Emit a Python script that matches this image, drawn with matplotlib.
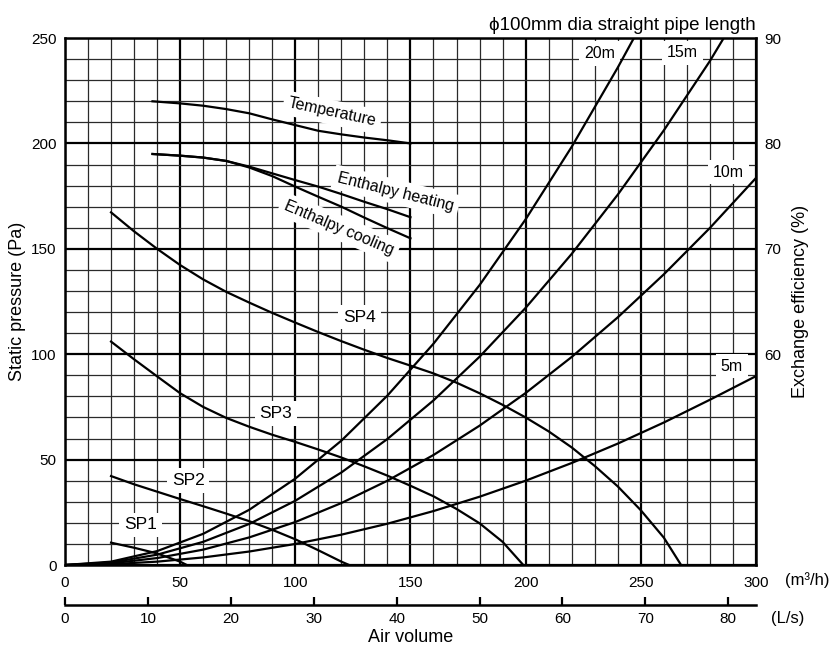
from __future__ import annotations

import numpy as np
import matplotlib
matplotlib.use("Agg")
import matplotlib.pyplot as plt

plt.rcParams["font.family"] = ["Liberation Sans", "DejaVu Sans"]

# ------------------------------------------------------------------ #
#   Data
# ------------------------------------------------------------------ #
# fan curves: air volume (m3/h) -> static pressure (Pa)
sp4_q = [20, 30, 40, 50, 60, 70, 80, 90, 100, 110, 120, 130, 140, 150, 160,
         170, 180, 190, 200, 210, 220, 230, 240, 250, 260, 267.5]
sp4_p = [167.3, 158.3, 150, 142.3, 135.5, 129.6, 124.5, 119.6, 115, 110.5,
         106.2, 102.1, 98.2, 94.6, 90.9, 86.5, 81.5, 76, 70, 63.4, 55.8, 47,
         37.3, 26, 13, 0]

sp3_q = [20, 30, 40, 50, 60, 70, 80, 90, 100, 110, 120, 130, 140, 150, 160,
         170, 180, 190, 199]
sp3_p = [106, 97.6, 89.5, 81.5, 75, 69.8, 65.6, 61.8, 58.4, 54.8, 51, 46.8,
         42.4, 37.6, 32.6, 26.6, 19.8, 11, 0]

sp2_q = [20, 30, 40, 50, 60, 70, 80, 90, 100, 110, 120, 123.4]
sp2_p = [42.2, 38.3, 34.8, 31.3, 27.9, 24.4, 20.8, 16.7, 12.2, 7, 1.6, 0]

sp1_q = [20, 30, 40, 50, 52.9]
sp1_p = [10.6, 8.2, 5.5, 1.6, 0]

# duct resistance, phi100 straight pipe
pipe20_q = [0, 20, 40, 60, 80, 100, 120, 140, 160, 180, 200, 220, 240, 247]
pipe20_p = [0, 1.6, 6.6, 14.8, 26.2, 41, 59, 80.4, 105, 132.8, 164, 198.4,
            236, 250]
pipe15_q = [0, 20, 40, 60, 80, 100, 120, 140, 160, 180, 200, 220, 240, 260,
            280, 286]
pipe15_p = [0, 1.2, 4.9, 11, 19.5, 30.5, 43.9, 59.8, 78.1, 98.8, 122, 147.6,
            175.7, 206.2, 239.1, 250]
pipe10_q = [0, 20, 40, 60, 80, 100, 120, 140, 160, 180, 200, 220, 240, 260,
            280, 300]
pipe10_p = [0, 0.8, 3.3, 7.3, 13.1, 20.4, 29.4, 40, 52.2, 66.1, 81.6, 98.7,
            117.5, 137.9, 159.9, 183.6]
pipe5_q = [0, 20, 40, 60, 80, 100, 120, 140, 160, 180, 200, 220, 240, 260,
           280, 300]
pipe5_p = [0, 0.4, 1.6, 3.6, 6.4, 10, 14.4, 19.6, 25.6, 32.4, 40, 48.4, 57.6,
           67.6, 78.4, 89.6]

# exchange efficiency (%)
eff_q = [38, 50, 60, 70, 80, 90, 100, 110, 120, 130, 140, 150]
temp_eff = [84.0, 83.8, 83.58, 83.26, 82.86, 82.28, 81.74, 81.2, 80.86,
            80.56, 80.3, 80.0]
heat_eff = [79.0, 78.84, 78.66, 78.34, 77.8, 77.16, 76.52, 75.9, 75.2,
            74.46, 73.76, 73.0]
cool_eff = [79.0, 78.84, 78.66, 78.34, 77.72, 76.9, 75.9, 74.94, 74.0,
            72.96, 71.96, 71.0]

fan_curves = [(sp1_q, sp1_p), (sp2_q, sp2_p), (sp3_q, sp3_p), (sp4_q, sp4_p)]
pipe_curves = [(pipe20_q, pipe20_p), (pipe15_q, pipe15_p),
               (pipe10_q, pipe10_p), (pipe5_q, pipe5_p)]
eff_curves = [temp_eff, heat_eff, cool_eff]

# ------------------------------------------------------------------ #
#   Figure
# ------------------------------------------------------------------ #
fig = plt.figure(figsize=(8.33, 6.45), dpi=100)
ax = fig.add_axes([0.078, 0.124, 0.8295, 0.817])
ax.set_xlim(0, 300)
ax.set_ylim(0, 250)

ax.set_xticks(np.arange(0, 301, 50))
ax.set_xticks(np.arange(0, 301, 10), minor=True)
ax.set_yticks(np.arange(0, 251, 50))
ax.set_yticks(np.arange(0, 251, 10), minor=True)
ax.grid(which="major", color="black", lw=1.6)
ax.grid(which="minor", color="#2a2a2a", lw=0.9)
ax.tick_params(which="both", length=0, labelsize=11)
ax.tick_params(axis="x", pad=8)
ax.tick_params(axis="y", pad=6)
for s in ax.spines.values():
    s.set_linewidth(1.8)

for q, p in fan_curves + pipe_curves:
    ax.plot(q, p, color="black", lw=1.6, zorder=4)

ax.set_ylabel("Static pressure (Pa)", fontsize=13, labelpad=4)

# right axis: exchange efficiency
ax2 = ax.twinx()
ax2.set_ylim(40, 90)
ax2.set_yticks([60, 70, 80, 90])
ax2.tick_params(length=0, labelsize=11, pad=6)
ax2.set_ylabel("Exchange efficiency (%)", fontsize=13, labelpad=8)
for s in ax2.spines.values():
    s.set_visible(False)
for e in eff_curves:
    ax2.plot(eff_q, e, color="black", lw=1.6, zorder=4)

# second x axis in L/s
secax = ax.secondary_xaxis(-0.076, functions=(lambda q: q / 3.6,
                                               lambda l: l * 3.6))
secax.set_xticks(np.arange(0, 81, 10))
secax.tick_params(direction="in", length=6, width=1.6, labelsize=11, pad=5)
secax.spines["bottom"].set_linewidth(1.8)
secax.set_xlabel("Air volume", fontsize=13, labelpad=2)

fig.text(807 / 833, 1 - 580 / 645, "(m\u00b3/h)", fontsize=12,
         ha="center", va="center")
fig.text(788 / 833, 1 - 619 / 645, "(L/s)", fontsize=12,
         ha="center", va="center")

ax.set_title("\u03d5100mm dia straight pipe length", loc="right",
             fontsize=13.5, pad=6)

# ------------------------------------------------------------------ #
#   Curve labels (white boxes break the grid)
# ------------------------------------------------------------------ #
box = dict(facecolor="white", edgecolor="none", pad=3.5)
labels = [
    ("SP1", 32.8, 19, 12.5, 0),
    ("SP2", 53.5, 40.2, 12.5, 0),
    ("SP3", 91.6, 72, 12.5, 0),
    ("SP4", 127.8, 117.6, 12.5, 0),
    ("20m", 232, 242.8, 11.5, 0),
    ("15m", 268, 243, 11.5, 0),
    ("10m", 288, 186.4, 11.5, 0),
    ("5m", 289.5, 94.4, 11.5, 0),
    ("Temperature", 116, 214.7, 11.5, -12),
    ("Enthalpy heating", 143.7, 177, 11.5, -14),
    ("Enthalpy cooling", 119, 160, 11.5, -23),
]
for txt, x, y, fs, rot in labels:
    ax.text(x, y, txt, fontsize=fs, rotation=rot, ha="center", va="center",
            rotation_mode="anchor", bbox=box, zorder=3)

fig.savefig("out.png", dpi=100)
